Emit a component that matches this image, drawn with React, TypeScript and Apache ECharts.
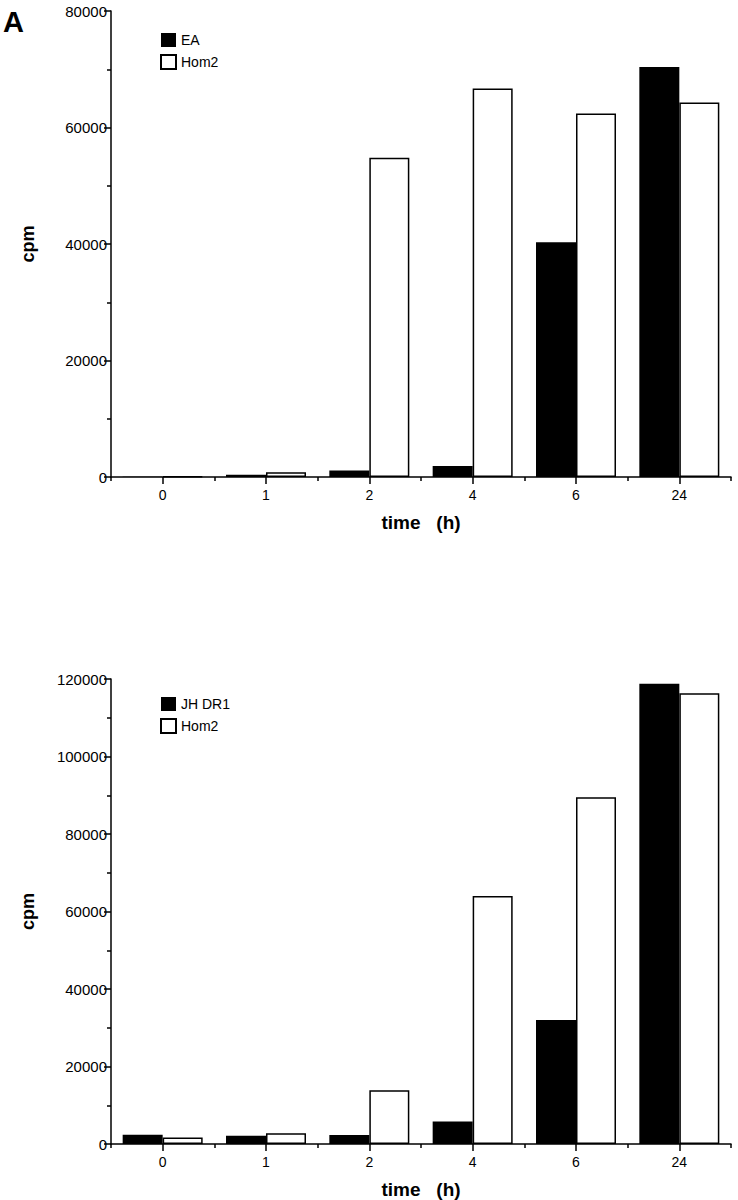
import React, { useEffect, useRef } from "react";
import * as echarts from "echarts";

const categories = ["0", "1", "2", "4", "6", "24"];
const seriesNamesA = ["EA", "Hom2"];
const seriesNamesB = ["JH DR1", "Hom2"];
const eaValues = [60, 400, 1100, 1900, 40300, 70400];
const hom2ValuesA = [120, 800, 54800, 66700, 62400, 64300];
const jhdr1Values = [2400, 2100, 2300, 5800, 32000, 118800];
const hom2ValuesB = [1700, 2800, 13900, 64000, 89500, 116300];
const yMaxA = 80000;
const yMaxB = 120000;
const yInterval = 20000;

const FONT = "'Liberation Sans', Arial, sans-serif";
const BLACK = "#000";

function xAxes(gridIndex: number) {
  return [
    {
      gridIndex,
      type: "category",
      data: categories,
      axisLine: { show: true, lineStyle: { color: BLACK, width: 1.5 } },
      axisTick: { show: true, length: 4, lineStyle: { color: BLACK, width: 1.5 } },
      axisLabel: { show: false },
      splitLine: { show: false },
    },
    {
      gridIndex,
      type: "category",
      data: categories,
      position: "bottom",
      axisLine: { show: false },
      axisTick: { show: true, alignWithLabel: true, length: 7, lineStyle: { color: BLACK, width: 1.5 } },
      axisLabel: { color: BLACK, fontSize: 14, fontFamily: FONT, margin: 11 },
      splitLine: { show: false },
      name: "time   (h)",
      nameLocation: "middle",
      nameGap: 36,
      nameTextStyle: { color: BLACK, fontSize: 19, fontWeight: "bold", fontFamily: FONT },
    },
  ];
}

function yAxis(gridIndex: number, max: number) {
  return {
    gridIndex,
    type: "value",
    min: 0,
    max,
    interval: yInterval,
    axisLine: { show: true, lineStyle: { color: BLACK, width: 1.5 } },
    axisTick: { show: true, length: 7, lineStyle: { color: BLACK, width: 1.5 } },
    minorTick: { show: true, splitNumber: 2, length: 4, lineStyle: { color: BLACK, width: 1.5 } },
    splitLine: { show: false },
    minorSplitLine: { show: false },
    axisLabel: {
      color: BLACK,
      fontSize: 15,
      fontFamily: FONT,
      margin: 4,
      formatter: (v: number) => String(v),
    },
    name: "cpm",
    nameLocation: "middle",
    nameGap: 74,
    nameTextStyle: { color: BLACK, fontSize: 18, fontWeight: "bold", fontFamily: FONT },
  };
}

function legend(top: number, names: string[]) {
  return {
    orient: "vertical",
    left: 160,
    top,
    padding: 0,
    data: names,
    icon: "rect",
    itemWidth: 15,
    itemHeight: 14,
    itemGap: 7,
    textStyle: { color: BLACK, fontSize: 14, fontFamily: FONT },
  };
}

const solid = { color: BLACK };
const hollow = { color: "#fff", borderColor: BLACK, borderWidth: 1.5 };

export default function App() {
  const ref = useRef<HTMLDivElement>(null);
  useEffect(() => {
    if (!ref.current) return;
    const chart = echarts.init(ref.current, null, { renderer: "svg" });
    chart.setOption({
      animation: false,
      backgroundColor: "#fff",
      textStyle: { fontFamily: FONT },
      graphic: [
        {
          type: "text",
          left: 3,
          top: 7,
          style: { text: "A", fontSize: 29, fontWeight: "bold", fontFamily: FONT, fill: BLACK },
        },
      ],
      legend: [legend(33, seriesNamesA), legend(697, seriesNamesB)],
      grid: [
        { left: 111, top: 11, width: 620, height: 466 },
        { left: 111, top: 679, width: 620, height: 466 },
      ],
      xAxis: [...xAxes(0), ...xAxes(1)],
      yAxis: [yAxis(0, yMaxA), yAxis(1, yMaxB)],
      series: [
        { type: "bar", name: seriesNamesA[0], xAxisIndex: 0, yAxisIndex: 0, data: eaValues, barWidth: 40, barGap: "0%", itemStyle: solid },
        { type: "bar", name: seriesNamesA[1], xAxisIndex: 0, yAxisIndex: 0, data: hom2ValuesA, barWidth: 40, barGap: "0%", itemStyle: hollow },
        { type: "bar", name: seriesNamesB[0], xAxisIndex: 2, yAxisIndex: 1, data: jhdr1Values, barWidth: 40, barGap: "0%", itemStyle: solid },
        { type: "bar", name: seriesNamesB[1], xAxisIndex: 2, yAxisIndex: 1, data: hom2ValuesB, barWidth: 40, barGap: "0%", itemStyle: hollow },
      ],
    });
    return () => chart.dispose();
  }, []);
  return (
    <div
      ref={ref}
      style={{ position: "absolute", left: 0, top: 0, width: 738, height: 1200 }}
    />
  );
}
